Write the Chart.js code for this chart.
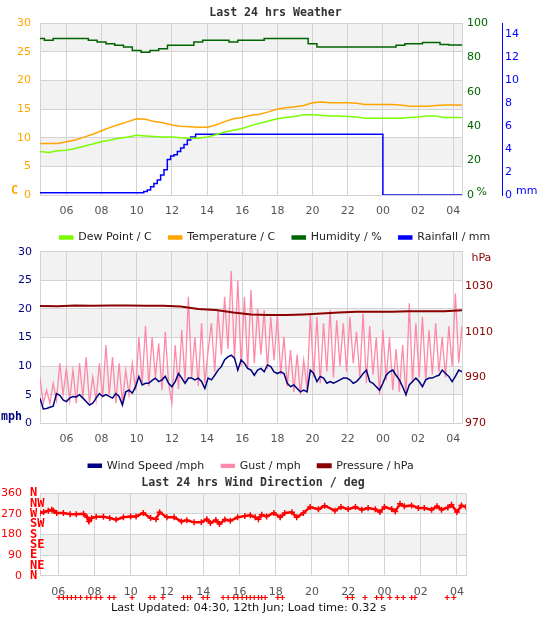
<!DOCTYPE html>
<html>
<head>
<meta charset="utf-8">
<title>Last 24 hrs Weather</title>
<script src="https://cdn.jsdelivr.net/npm/chart.js@4.4.1/dist/chart.umd.min.js"></script>
<style>
  body { margin: 0; background: #fff; }
  #page { position: relative; width: 542px; height: 619px; font-family: "DejaVu Sans", sans-serif; }
  #page canvas { position: absolute; left: 0; top: 0; }
  .txt { position: absolute; white-space: nowrap; line-height: 1; font-size: 11px; }
  .mono { font-family: "DejaVu Sans Mono", monospace; font-weight: bold; font-size: 11.6px; }
  .center { transform: translateX(-50%); }
</style>
</head>
<body>
<div id="page">
  <canvas id="wx" width="542" height="619"></canvas>
  <canvas id="wind" width="542" height="619"></canvas>
  <canvas id="dir" width="542" height="619"></canvas>
  <canvas id="calm" width="542" height="619"></canvas>

  <div class="txt mono center" style="left:275.5px; top:7px; color:#333">Last 24 hrs Weather</div>
  <div class="txt mono" style="left:11px; top:184.5px; color:#ffa500">C</div>
  <div class="txt" style="left:476.5px; top:185.5px; color:#006400">%</div>
  <div class="txt" style="left:516px; top:185px; color:#0000ff">mm</div>

  <div class="txt mono" style="left:1px; top:410.5px; color:#000080">mph</div>
  <div class="txt" style="left:471.5px; top:251.5px; color:#8b0000">hPa</div>

  <div class="txt mono center" style="left:253px; top:477px; color:#333">Last 24 hrs Wind Direction / deg</div>
  <div class="txt center" style="left:248.5px; top:602px; font-size:11.3px; color:#111">Last Updated: 04:30, 12th Jun; Load time: 0.32 s</div>
</div>

<script>
// hours of the day; values past 24 belong to the next morning
const HOUR_TICKS = [6, 8, 10, 12, 14, 16, 18, 20, 22, 24, 26, 28];

// ---- weather panel: half-hourly samples from 04:30
const WX_START = 4.5, WX_STEP = 0.5;
const TEMP = [9.0, 9.0, 9.0, 9.3, 9.6, 10.1, 10.6, 11.2, 11.8, 12.3,
  12.8, 13.3, 13.2, 12.8, 12.6, 12.2, 12.0, 11.9, 11.8, 11.8,
  12.2, 12.8, 13.3, 13.5, 13.9, 14.1, 14.5, 15.0, 15.2, 15.4,
  15.6, 16.1, 16.2, 16.1, 16.1, 16.1, 16.0, 15.8, 15.8, 15.8,
  15.8, 15.7, 15.5, 15.5, 15.5, 15.6, 15.7, 15.7, 15.7];
const DEW = [7.6, 7.4, 7.7, 7.8, 8.1, 8.5, 8.9, 9.3, 9.6, 9.9,
  10.1, 10.4, 10.3, 10.2, 10.1, 10.1, 10.0, 9.9, 9.9, 10.1,
  10.5, 11.0, 11.3, 11.6, 12.1, 12.5, 12.9, 13.3, 13.5, 13.7,
  14.0, 14.0, 13.9, 13.8, 13.8, 13.7, 13.6, 13.4, 13.4, 13.4,
  13.4, 13.4, 13.5, 13.6, 13.8, 13.8, 13.5, 13.5, 13.5];
const HUM = [91, 90, 91, 91, 91, 91, 90, 89, 88, 87,
  86, 84, 83, 84, 85, 87, 87, 87, 89, 90,
  90, 90, 89, 90, 90, 90, 91, 91, 91, 91,
  91, 88, 86, 86, 86, 86, 86, 86, 86, 86,
  86, 87, 88, 88, 88.6, 88.6, 87.5, 87.2, 87.2];
// rainfall steps (value holds until the next time)
const RAIN_T = [4.5, 10.4, 10.6, 10.79, 10.98, 11.17, 11.36, 11.55, 11.74, 11.93, 12.12,
  12.31, 12.5, 12.69, 12.88, 13.07, 13.35, 24.0, 28.5];
const RAIN = [0.2, 0.3, 0.44, 0.73, 1.0, 1.3, 1.75, 2.2, 3.1, 3.4, 3.5,
  3.8, 4.1, 4.4, 4.8, 5.05, 5.3, 0, 0];

// ---- wind panel: samples every 11.25 min from 04:30
const WIND_START = 4.5, WIND_STEP = 0.1875;
const WIND_SPEED = [4.4, 2.5, 2.6, 2.8, 3.0, 5.2, 4.9, 4.1, 3.8, 4.4,
  4.7, 4.6, 5.0, 4.4, 3.8, 3.2, 3.5, 4.4, 5.2, 4.7,
  5.0, 4.7, 4.4, 5.2, 4.7, 3.2, 5.5, 5.8, 5.3, 6.4,
  8.2, 6.7, 7.0, 7.0, 7.5, 7.9, 7.3, 7.6, 8.2, 7.0,
  6.4, 7.3, 8.7, 7.9, 7.0, 7.9, 7.9, 7.6, 7.9, 7.3,
  6.1, 7.9, 7.6, 8.4, 9.3, 9.9, 11.1, 11.6, 11.9, 11.4,
  9.3, 11.1, 10.5, 9.6, 9.3, 8.4, 9.3, 9.6, 9.0, 10.2,
  9.9, 9.0, 8.7, 9.0, 8.7, 7.0, 6.4, 6.7, 6.1, 5.5,
  5.8, 5.5, 9.3, 8.7, 7.3, 8.2, 7.9, 7.0, 7.3, 7.0,
  7.3, 7.6, 7.9, 7.9, 7.6, 7.0, 7.3, 7.9, 8.7, 9.3,
  7.3, 7.0, 6.4, 5.8, 7.0, 8.4, 9.0, 9.3, 8.4, 7.6,
  6.4, 5.0, 6.7, 7.3, 7.9, 7.3, 6.4, 7.6, 7.9, 7.9,
  8.2, 8.4, 9.3, 8.7, 8.2, 7.3, 8.2, 9.3, 9.0];
const GUST = [8.0, 3.5, 5.8, 3.5, 7.0, 4.0, 10.5, 5.0, 9.5, 4.0,
  9.3, 3.5, 10.5, 4.5, 11.6, 3.5, 8.1, 4.0, 10.5, 4.5,
  13.7, 5.0, 11.6, 3.5, 10.5, 3.5, 9.3, 5.0, 10.5, 5.8,
  15.1, 7.0, 17.0, 6.5, 15.1, 8.0, 14.0, 5.8, 16.0, 7.0,
  3.5, 13.7, 6.0, 16.3, 7.5, 22.1, 8.0, 15.1, 6.5, 17.5,
  7.0, 12.8, 17.5, 9.0, 19.8, 12.0, 22.1, 13.0, 26.6, 11.0,
  25.0, 10.0, 22.1, 9.5, 23.3, 10.5, 20.0, 12.0, 19.8, 9.5,
  18.6, 11.0, 19.0, 8.5, 15.1, 6.5, 12.8, 5.5, 12.0, 5.0,
  11.0, 6.0, 19.2, 8.0, 18.6, 7.0, 17.5, 9.0, 19.8, 8.0,
  18.0, 10.0, 17.5, 9.0, 18.6, 10.5, 16.0, 8.0, 19.2, 7.0,
  17.0, 8.5, 15.0, 5.0, 16.3, 7.5, 15.1, 5.8, 13.0, 5.5,
  13.7, 4.7, 21.0, 7.0, 17.5, 8.0, 18.6, 7.5, 16.3, 8.5,
  17.5, 9.0, 15.1, 8.0, 17.0, 10.0, 22.7, 10.5, 17.0];
// pressure, hourly from 04:30
const PRES_START = 4.5, PRES_STEP = 1;
const PRESSURE = [1021.3, 1021.2, 1021.5, 1021.4, 1021.5, 1021.5, 1021.4, 1021.4, 1021.0, 1020.0,
  1019.5, 1018.4, 1017.6, 1017.3, 1017.3, 1017.6, 1018.0, 1018.4, 1018.7, 1018.7,
  1018.8, 1019.0, 1019.0, 1019.0, 1019.4];
const PRES_TICKS = [970, 990, 1010, 1030];

// ---- wind direction panel
const DIR_T = [5.0, 5.2, 5.46, 5.65, 5.74, 5.92, 6.29, 6.66, 7.0, 7.4,
  7.6, 7.7, 7.85, 8.1, 8.5, 8.85, 9.2, 9.6, 10.0, 10.3,
  10.7, 11.1, 11.4, 11.6, 12.0, 12.4, 12.8, 13.1, 13.5, 13.9,
  14.2, 14.4, 14.7, 14.9, 15.2, 15.5, 15.9, 16.3, 16.6, 16.87,
  17.05, 17.23, 17.5, 17.9, 18.25, 18.5, 18.9, 19.16, 19.53, 19.9,
  20.36, 20.7, 21.27, 21.6, 22.0, 22.4, 22.75, 23.1, 23.5, 23.75,
  24.0, 24.4, 24.6, 24.86, 25.1, 25.5, 25.87, 26.2, 26.6, 26.9,
  27.15, 27.5, 27.7, 28.0, 28.25, 28.5];
const DIR = [274, 278, 284, 288, 284, 274, 274, 269, 269, 271,
  255, 237, 252, 258, 258, 252, 245, 255, 259, 259,
  274, 252, 247, 277, 255, 255, 237, 242, 233, 233,
  247, 230, 243, 226, 245, 240, 255, 261, 264, 255,
  247, 266, 259, 274, 255, 274, 277, 255, 274, 300,
  290, 306, 284, 300, 291, 300, 288, 296, 290, 278,
  300, 291, 281, 314, 303, 307, 296, 296, 288, 303,
  288, 298, 310, 278, 307, 300];
// calm readings (no direction), shown as a row of marks under the axis
const CALM_T = [6.05, 6.29, 6.51, 6.73, 6.96, 7.24, 7.58, 7.8, 8.1, 8.35,
  8.83, 9.08, 10.08, 11.08, 11.3, 11.78, 12.92, 13.14, 13.3, 14.0,
  14.24, 15.1, 15.38, 15.69, 15.91, 16.15, 16.39, 16.6, 16.82, 17.05,
  17.23, 17.42, 18.12, 18.37, 21.97, 22.23, 22.93, 23.57, 23.85, 24.3,
  24.71, 25.04, 25.5, 25.68, 27.46, 27.83];
const COMPASS = ['N', 'NE', 'E', 'SE', 'S', 'SW', 'W', 'NW', 'N'];

// ---- helpers
const FONT = { family: 'DejaVu Sans', size: 11 };
const GRID = '#d3d3d3';
const seq = (start, step, n) => Array.from({ length: n }, (_, i) => start + i * step);
const pts = (xs, ys) => xs.map((x, i) => ({ x, y: ys[i] }));
const fixWidth = w => s => { s.width = w; };
const fixHeight = h => s => { s.height = h; };
const hourLabel = v => (HOUR_TICKS.includes(v) ? String(v % 24).padStart(2, '0') : '');

// shade every other band between y ticks, starting at the top
const bands = {
  id: 'bands',
  beforeDraw(chart, args, opts) {
    const { ctx, chartArea: a } = chart;
    const ys = chart.scales[opts.axis];
    const vals = ys.ticks.map(t => t.value).sort((p, q) => q - p);
    ctx.save();
    ctx.fillStyle = '#f2f2f2';
    for (let i = 0; i < vals.length - 1; i += 2) {
      const y0 = ys.getPixelForValue(vals[i]);
      const y1 = ys.getPixelForValue(vals[i + 1]);
      ctx.fillRect(a.left, y0, a.right - a.left, y1 - y0);
    }
    ctx.restore();
  }
};

const legendOpts = {
  position: 'bottom',
  labels: {
    boxWidth: 13, boxHeight: 3, padding: 17, color: '#222', font: FONT,
    sort: (a, b) => a.datasetIndex - b.datasetIndex
  }
};

// x axis: grid lines at the even hours plus the two plot edges
const xAxis = min => ({
  type: 'linear', min, max: 28.5,
  afterFit: fixHeight(20),
  afterBuildTicks: s => { s.ticks = [min, ...HOUR_TICKS, 28.5].map(v => ({ value: v })); },
  grid: { color: GRID, drawTicks: false },
  border: { display: false },
  ticks: { autoSkip: false, maxRotation: 0, padding: 9.5, color: '#555', font: FONT, callback: hourLabel }
});

Chart.defaults.font.family = 'DejaVu Sans';

// ---- chart 1: temperature, dew point, humidity, rainfall
const wxT = seq(WX_START, WX_STEP, TEMP.length);
new Chart(document.getElementById('wx'), {
  type: 'line',
  data: {
    datasets: [
      { label: 'Dew Point / C', data: pts(wxT, DEW), borderColor: '#7cfc00', backgroundColor: '#7cfc00', yAxisID: 'temp' },
      { label: 'Temperature / C', data: pts(wxT, TEMP), borderColor: '#ffa500', backgroundColor: '#ffa500', yAxisID: 'temp' },
      { label: 'Humidity / %', data: pts(wxT, HUM), borderColor: '#006400', backgroundColor: '#006400', yAxisID: 'hum', stepped: 'middle' },
      { label: 'Rainfall / mm', data: pts(RAIN_T, RAIN), borderColor: '#0000ff', backgroundColor: '#0000ff', yAxisID: 'rain', stepped: 'before' }
    ]
  },
  options: {
    responsive: false, animation: false, events: [],
    layout: { padding: { top: 23, left: 8, right: 0, bottom: 366 } },
    elements: { point: { radius: 0 }, line: { borderWidth: 1.5, tension: 0 } },
    plugins: { legend: legendOpts, tooltip: { enabled: false }, bands: { axis: 'temp' } },
    scales: {
      x: xAxis(4.5),
      temp: {
        position: 'left', min: 0, max: 30, afterFit: fixWidth(32),
        grid: { color: GRID, drawTicks: false }, border: { display: false },
        ticks: { stepSize: 5, padding: 9, color: '#ffa500', font: FONT }
      },
      hum: {
        position: 'right', weight: 0, min: 0, max: 100, afterFit: fixWidth(40),
        grid: { drawOnChartArea: false, drawTicks: false }, border: { display: true, color: GRID },
        ticks: { stepSize: 20, padding: 5, color: '#006400', font: FONT }
      },
      rain: {
        position: 'right', weight: 1, min: 0, max: 15, afterFit: fixWidth(40),
        grid: { drawOnChartArea: false, drawTicks: false }, border: { display: true, color: '#0000ff' },
        ticks: { stepSize: 2, includeBounds: false, padding: 3, color: '#0000ff', font: FONT }
      }
    }
  },
  plugins: [bands]
});

// ---- chart 2: wind speed, gust, pressure
const windT = seq(WIND_START, WIND_STEP, WIND_SPEED.length);
const presT = seq(PRES_START, PRES_STEP, PRESSURE.length);
new Chart(document.getElementById('wind'), {
  type: 'line',
  data: {
    datasets: [
      { label: 'Wind Speed /mph', data: pts(windT, WIND_SPEED), borderColor: '#000080', backgroundColor: '#000080', yAxisID: 'mph', order: 0 },
      { label: 'Gust / mph', data: pts(windT, GUST), borderColor: '#ff88aa', backgroundColor: '#ff88aa', yAxisID: 'mph', borderWidth: 1.3, order: 2 },
      { label: 'Pressure / hPa', data: pts(presT, PRESSURE), borderColor: '#8b0000', backgroundColor: '#8b0000', yAxisID: 'hpa', borderWidth: 2, order: 1 }
    ]
  },
  options: {
    responsive: false, animation: false, events: [],
    layout: { padding: { top: 251.7, left: 0, right: 40, bottom: 137.7 } },
    elements: { point: { radius: 0 }, line: { borderWidth: 1.5, tension: 0 } },
    plugins: { legend: legendOpts, tooltip: { enabled: false }, bands: { axis: 'mph' } },
    scales: {
      x: xAxis(4.5),
      mph: {
        position: 'left', min: 0, max: 30, afterFit: fixWidth(40),
        grid: { color: GRID, drawTicks: false }, border: { display: false },
        ticks: { stepSize: 5, padding: 8, color: '#000080', font: FONT }
      },
      hpa: {
        position: 'right', min: 970, max: 1045, afterFit: fixWidth(40),
        afterBuildTicks: s => { s.ticks = PRES_TICKS.map(v => ({ value: v })); },
        grid: { drawOnChartArea: false, drawTicks: false }, border: { display: true, color: GRID },
        ticks: { padding: 3, color: '#8b0000', font: FONT, callback: v => String(v) }
      }
    }
  },
  plugins: [bands]
});

// ---- chart 3: wind direction
new Chart(document.getElementById('dir'), {
  type: 'line',
  data: {
    datasets: [
      { label: 'Direction', data: pts(DIR_T, DIR), borderColor: '#ff0000', borderWidth: 2.5,
        pointStyle: 'cross', pointRadius: 3, pointBorderWidth: 1.5, pointBorderColor: '#ff0000', yAxisID: 'deg' }
    ]
  },
  options: {
    responsive: false, animation: false, events: [],
    layout: { padding: { top: 493.3, left: 0, right: 76, bottom: 23.3 } },
    elements: { line: { tension: 0 } },
    plugins: { legend: { display: false }, tooltip: { enabled: false }, bands: { axis: 'deg' } },
    scales: {
      x: xAxis(5.0),
      deg: {
        position: 'left', weight: 1, min: 0, max: 360, afterFit: fixWidth(30),
        grid: { color: GRID, drawTicks: false }, border: { display: false },
        ticks: { stepSize: 90, padding: 8, color: '#ff0000', font: FONT }
      },
      compass: {
        position: 'left', weight: 0, min: 0, max: 360, afterFit: fixWidth(10),
        grid: { display: false }, border: { display: false },
        ticks: {
          stepSize: 45, autoSkip: false, mirror: true, padding: -10, color: '#ff0000',
          font: { family: 'DejaVu Sans Mono', size: 12, weight: 'bold' },
          callback: v => COMPASS[v / 45]
        }
      }
    }
  },
  plugins: [bands]
});

// ---- calm marks: a thin strip on the same time range, under the direction labels
new Chart(document.getElementById('calm'), {
  type: 'scatter',
  data: {
    datasets: [
      { label: 'Calm', data: CALM_T.map(t => ({ x: t, y: 0 })),
        pointStyle: 'cross', pointRadius: 2.5, pointBorderWidth: 1.2, pointBorderColor: '#ff0000' }
    ]
  },
  options: {
    responsive: false, animation: false, events: [],
    layout: { padding: { top: 592, left: 40, right: 76, bottom: 16 } },
    plugins: { legend: { display: false }, tooltip: { enabled: false } },
    scales: {
      x: { type: 'linear', display: false, min: 5.0, max: 28.5 },
      y: { display: false, min: -1, max: 1 }
    }
  }
});
</script>
</body>
</html>
